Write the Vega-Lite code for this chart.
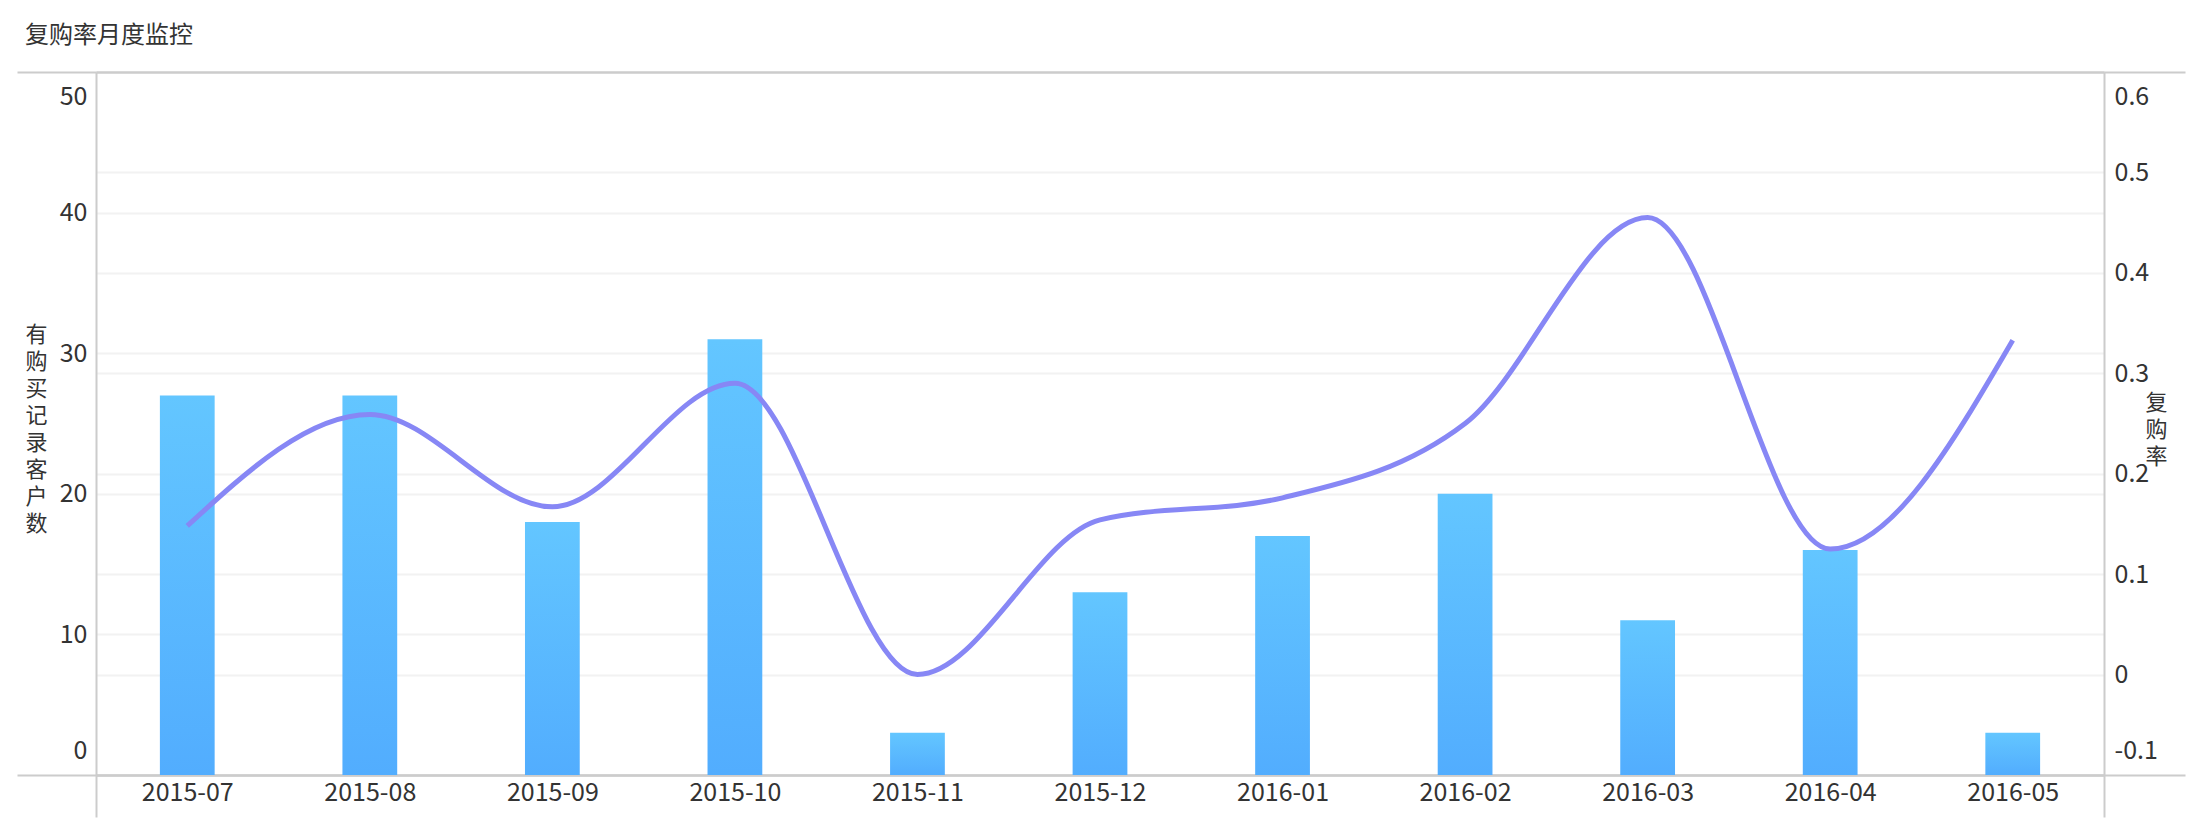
{
  "$schema": "https://vega.github.io/schema/vega-lite/v6.json",
  "autosize": {"type": "none"},
  "width": 2008,
  "height": 703,
  "padding": {"left": 96, "top": 72, "right": 98, "bottom": 55},
  "background": "white",
  "title": {
    "text": "复购率月度监控",
    "anchor": "start",
    "frame": "group",
    "dx": -71,
    "offset": 23,
    "fontSize": 24,
    "fontWeight": "normal",
    "color": "#333333"
  },
  "config": {
    "font": "Noto Sans CJK SC",
    "view": {"stroke": null}
  },
  "data": {
    "values": [
      {"month": "2015-07", "count": 27, "rate": 0.148},
      {"month": "2015-08", "count": 27, "rate": 0.259},
      {"month": "2015-09", "count": 18, "rate": 0.167},
      {"month": "2015-10", "count": 31, "rate": 0.290},
      {"month": "2015-11", "count": 3, "rate": 0.0},
      {"month": "2015-12", "count": 13, "rate": 0.154},
      {"month": "2016-01", "count": 17, "rate": 0.176},
      {"month": "2016-02", "count": 20, "rate": 0.25},
      {"month": "2016-03", "count": 11, "rate": 0.455},
      {"month": "2016-04", "count": 16, "rate": 0.125},
      {"month": "2016-05", "count": 3, "rate": 0.333}
    ]
  },
  "encoding": {
    "x": {
      "field": "month",
      "type": "ordinal",
      "scale": {"paddingInner": 0, "paddingOuter": 0},
      "axis": {
        "title": null,
        "labelAngle": 0,
        "labelFontSize": 25,
        "labelColor": "#333333",
        "labelPadding": -37,
        "domain": true,
        "domainColor": "#cccccc",
        "domainWidth": 2,
        "ticks": true,
        "tickBand": "extent",
        "tickSize": 42,
        "tickColor": "#cccccc",
        "tickWidth": 2,
        "tickOpacity": {"condition": {"test": "datum.index === -1 || datum.value === '2016-05'", "value": 1}, "value": 0},
        "grid": false
      }
    }
  },
  "layer": [
    {
      "mark": {
        "type": "bar",
        "width": {"band": 0.3},
        "color": {
          "gradient": "linear",
          "x1": 0, "y1": 0, "x2": 0, "y2": 1,
          "stops": [
            {"offset": 0, "color": "#63c6ff"},
            {"offset": 1, "color": "#52adfe"}
          ]
        }
      },
      "encoding": {
        "y": {
          "field": "count",
          "type": "quantitative",
          "scale": {"domain": [0, 50], "nice": false},
          "axis": {
            "orient": "left",
            "values": [0, 10, 20, 30, 40, 50],
            "title": ["有", "购", "买", "记", "录", "客", "户", "数"],
            "titleAngle": 0,
            "titleX": -60,
            "titleY": 252,
            "titleAlign": "center",
            "titleBaseline": "top",
            "titleFontSize": 22,
            "titleFontWeight": "normal",
            "titleLineHeight": 27,
            "titleColor": "#333333",
            "domainColor": "#cccccc",
            "domainWidth": 2,
            "ticks": true,
            "tickSize": 79,
            "tickColor": "#cccccc",
            "tickWidth": 2,
            "tickOpacity": {"condition": {"test": "datum.value === 0 || datum.value === 50", "value": 1}, "value": 0},
            "labelPadding": -70,
            "labelFlush": true,
            "labelFlushOffset": -12,
            "labelFontSize": 25,
            "labelColor": "#333333",
            "grid": true,
            "gridColor": {"condition": {"test": "datum.value === 0 || datum.value === 50", "value": "#cccccc"}, "value": "#f2f2f2"},
            "gridWidth": 2
          }
        }
      }
    },
    {
      "mark": {
        "type": "line",
        "interpolate": "monotone",
        "strokeWidth": 5,
        "color": "#8787f5"
      },
      "encoding": {
        "y": {
          "field": "rate",
          "type": "quantitative",
          "scale": {"domain": [-0.1, 0.6], "nice": false, "zero": false},
          "axis": {
            "orient": "right",
            "values": [-0.1, 0, 0.1, 0.2, 0.3, 0.4, 0.5, 0.6],
            "labelExpr": "'' + round(datum.value * 10) / 10",
            "title": ["复", "购", "率"],
            "titleAngle": 0,
            "titleX": 52,
            "titleY": 320,
            "titleAlign": "center",
            "titleBaseline": "top",
            "titleFontSize": 22,
            "titleFontWeight": "normal",
            "titleLineHeight": 27,
            "titleColor": "#333333",
            "domainColor": "#cccccc",
            "domainWidth": 2,
            "ticks": true,
            "tickSize": 81,
            "tickColor": "#cccccc",
            "tickWidth": 2,
            "tickOpacity": {"condition": {"test": "abs(datum.value - 0.6) < 0.000001 || abs(datum.value + 0.1) < 0.000001", "value": 1}, "value": 0},
            "labelPadding": -71,
            "labelFlush": true,
            "labelFlushOffset": -12,
            "labelFontSize": 25,
            "labelColor": "#333333",
            "grid": true,
            "gridColor": {"condition": {"test": "abs(datum.value - 0.6) < 0.000001 || abs(datum.value + 0.1) < 0.000001", "value": "#cccccc"}, "value": "#f2f2f2"},
            "gridWidth": 2
          }
        }
      }
    }
  ],
  "resolve": {"scale": {"y": "independent"}}
}
